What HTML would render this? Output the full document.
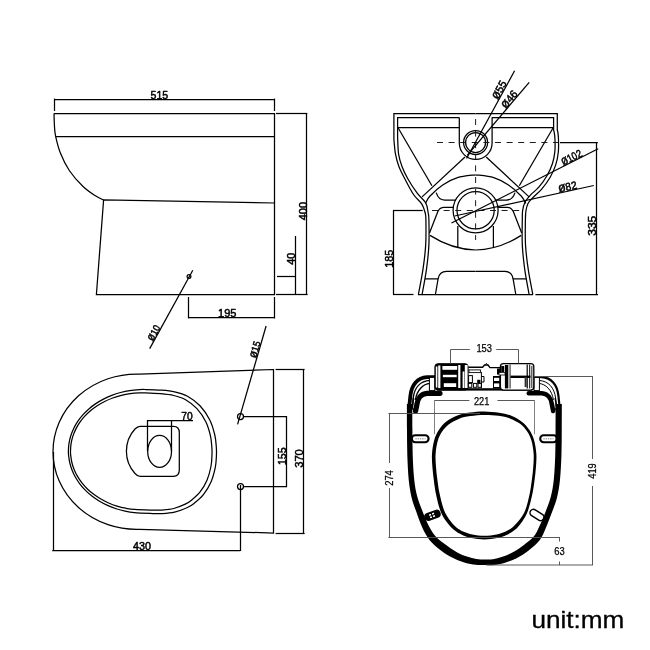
<!DOCTYPE html>
<html lang="en">
<head>
<meta charset="utf-8">
<title>Toilet dimensions (unit: mm)</title>
<style>
html,body{margin:0;padding:0;background:#fff;}
body{width:650px;height:650px;overflow:hidden;}
svg{display:block;will-change:transform;filter:grayscale(1);}
.cad{fill:none;stroke:#000;stroke-width:1.25;stroke-linecap:butt;stroke-linejoin:miter;}
.cad .dash{stroke-dasharray:6 5.6;stroke-width:0.95;stroke:#111;}
.dim{fill:none;stroke:#505050;stroke-width:0.95;}
text{font-family:"Liberation Sans",sans-serif;fill:#000;}
.t{fill:#000;stroke:#000;stroke-width:0.5;stroke-linejoin:round;}
.s{fill:#000;stroke:#000;stroke-width:0.25;}
.u{fill:#000;stroke:#000;stroke-width:0.3;}
</style>
</head>
<body>
<svg width="650" height="650" viewBox="0 0 650 650">
<rect width="650" height="650" fill="#fff"/>
<g class="cad">
<path d="M54.00,113.50 C54.07,115.42 54.13,121.23 54.40,125.00 C54.67,128.77 54.58,131.38 55.60,136.10 C56.62,140.82 58.22,147.57 60.50,153.30 C62.78,159.03 65.58,165.00 69.30,170.50 C73.02,176.00 78.52,182.12 82.80,186.30 C87.08,190.48 91.57,193.32 95.00,195.60 C98.43,197.88 102.00,199.27 103.40,200.00"/>
<path d="M54,113.5 H274.5 V294.5 H96.4 L103.6,200 L274.5,203"/>
<line x1="55.60" y1="136.50" x2="274.60" y2="136.50"/>
<line x1="54.00" y1="99.50" x2="274.40" y2="99.50"/>
<line x1="54.50" y1="98.60" x2="54.50" y2="111.00"/>
<line x1="274.50" y1="98.60" x2="274.50" y2="111.00"/>
<line x1="276.00" y1="113.50" x2="307.30" y2="113.50"/>
<line x1="276.00" y1="294.50" x2="307.60" y2="294.50"/>
<line x1="306.50" y1="113.20" x2="306.50" y2="294.50"/>
<line x1="295.50" y1="236.00" x2="295.50" y2="294.50"/>
<line x1="277.00" y1="276.50" x2="295.60" y2="276.50"/>
<line x1="188.50" y1="297.00" x2="188.50" y2="318.40"/>
<line x1="274.50" y1="297.00" x2="274.50" y2="318.40"/>
<line x1="188.60" y1="317.50" x2="274.70" y2="317.50"/>
<circle cx="189" cy="276.5" r="1.9"/>
<line x1="192.80" y1="270.30" x2="149.70" y2="348.60"/>
<line x1="266.10" y1="326.00" x2="237.60" y2="424.40"/>
</g>
<g class="cad">
<path d="M273.5,369.5 L139.5,374.1 A83.5,77.65 0 1 0 139.5,529.3 L273.5,533 Z"/>
<path d="M68.40,451.10 C68.47,449.16 68.60,445.93 69.00,443.38 C69.39,440.83 69.99,438.27 70.77,435.78 C71.56,433.29 72.54,430.82 73.70,428.42 C74.86,426.03 76.22,423.68 77.74,421.42 C79.26,419.17 80.97,416.97 82.82,414.89 C84.67,412.81 86.70,410.81 88.86,408.93 C91.02,407.06 93.34,405.28 95.77,403.64 C98.20,402.00 100.78,400.47 103.45,399.09 C106.11,397.71 108.90,396.46 111.75,395.36 C114.61,394.27 117.57,393.31 120.57,392.51 C123.57,391.72 126.65,391.07 129.75,390.59 C132.85,390.11 136.62,389.80 139.16,389.62 C141.70,389.44 141.39,389.42 145.00,389.50 C148.61,389.58 155.87,389.72 160.80,390.10 C165.73,390.48 170.15,390.78 174.60,391.80 C179.05,392.82 183.27,393.87 187.50,396.20 C191.73,398.53 196.28,401.83 200.00,405.80 C203.72,409.77 207.33,415.13 209.80,420.00 C212.27,424.87 213.72,430.50 214.80,435.00 C215.88,439.50 216.03,443.50 216.30,447.00 C216.57,450.50 216.57,452.60 216.40,456.00 C216.23,459.40 216.20,463.07 215.30,467.40 C214.40,471.73 212.98,477.47 211.00,482.00 C209.02,486.53 206.23,491.03 203.40,494.60 C200.57,498.17 196.75,501.20 194.00,503.40 C191.25,505.60 190.13,506.33 186.90,507.80 C183.67,509.27 178.70,511.23 174.60,512.20 C170.50,513.17 166.40,513.40 162.30,513.60 C158.20,513.80 154.64,513.56 150.00,513.40 C145.36,513.24 138.58,512.99 134.44,512.61 C130.29,512.24 128.18,511.80 125.12,511.15 C122.07,510.51 119.04,509.70 116.11,508.75 C113.17,507.79 110.29,506.68 107.53,505.43 C104.76,504.18 102.07,502.78 99.52,501.26 C96.97,499.74 94.52,498.07 92.22,496.30 C89.92,494.52 87.74,492.62 85.73,490.62 C83.72,488.62 81.84,486.51 80.15,484.32 C78.46,482.13 76.93,479.84 75.59,477.50 C74.24,475.15 73.07,472.72 72.10,470.26 C71.12,467.80 70.33,465.26 69.74,462.72 C69.15,460.17 68.77,456.93 68.55,454.99 C68.33,453.06 68.33,453.04 68.40,451.10Z"/>
<path d="M70.50,451.18 C70.57,449.34 70.69,446.16 71.08,443.70 C71.47,441.24 72.05,438.81 72.81,436.42 C73.58,434.03 74.53,431.67 75.67,429.38 C76.80,427.09 78.12,424.84 79.60,422.68 C81.09,420.52 82.75,418.43 84.56,416.44 C86.37,414.46 88.35,412.55 90.45,410.76 C92.56,408.98 94.82,407.29 97.19,405.74 C99.56,404.19 102.07,402.74 104.67,401.45 C107.26,400.15 109.98,398.98 112.75,397.97 C115.53,396.95 118.41,396.07 121.32,395.35 C124.23,394.62 127.21,394.05 130.23,393.63 C133.24,393.21 136.94,392.97 139.39,392.84 C141.84,392.70 141.40,392.68 144.93,392.82 C148.45,392.95 155.72,393.21 160.52,393.66 C165.33,394.10 169.58,394.49 173.76,395.49 C177.93,396.50 181.71,397.50 185.57,399.70 C189.44,401.89 193.55,404.95 196.94,408.67 C200.33,412.38 203.66,417.40 205.92,421.97 C208.18,426.53 209.51,431.81 210.50,436.04 C211.49,440.26 211.62,444.05 211.86,447.34 C212.10,450.63 212.10,452.59 211.95,455.78 C211.80,458.98 211.78,462.42 210.96,466.50 C210.13,470.58 208.81,476.01 207.00,480.25 C205.19,484.49 202.67,488.63 200.08,491.96 C197.48,495.28 193.91,498.17 191.44,500.20 C188.97,502.24 188.21,502.79 185.25,504.17 C182.30,505.56 177.59,507.54 173.73,508.51 C169.88,509.49 166.06,509.76 162.12,510.01 C158.19,510.26 154.69,510.09 150.12,510.01 C145.55,509.92 138.78,509.77 134.72,509.47 C130.66,509.18 128.70,508.79 125.74,508.22 C122.79,507.64 119.84,506.91 116.99,506.03 C114.14,505.15 111.34,504.12 108.65,502.95 C105.96,501.78 103.34,500.47 100.85,499.03 C98.37,497.59 95.97,496.02 93.73,494.33 C91.49,492.65 89.36,490.84 87.40,488.93 C85.44,487.03 83.61,485.01 81.96,482.92 C80.31,480.83 78.82,478.64 77.51,476.40 C76.20,474.15 75.05,471.82 74.10,469.46 C73.15,467.10 72.38,464.69 71.80,462.24 C71.23,459.79 70.86,456.60 70.64,454.75 C70.42,452.91 70.42,453.02 70.50,451.18Z"/>
<path d="M140,426.3 H173.5 Q179.3,426.3 179.3,432.5 V470 Q179.3,476.3 173.5,476.3 H140 Q137.5,476.3 135,473.5 C129,467 126.4,460 126.4,451.3 C126.4,442.6 129,435.5 135,429 Q137.5,426.3 140,426.3 Z"/>
<ellipse cx="159.6" cy="451.4" rx="11.9" ry="16"/>
<path d="M147.5,451 V420.5 H193"/>
<line x1="171.50" y1="420.00" x2="171.50" y2="451.00"/>
<circle cx="240.5" cy="416.5" r="3"/>
<circle cx="240.5" cy="486.5" r="3"/>
<path d="M243.4,416.5 H286.5 V486.5 H243.4"/>
<line x1="275.60" y1="369.50" x2="304.60" y2="369.50"/>
<line x1="275.60" y1="533.50" x2="304.60" y2="533.50"/>
<line x1="303.50" y1="369.60" x2="303.50" y2="533.60"/>
<line x1="53.50" y1="452.00" x2="53.50" y2="551.00"/>
<line x1="240.50" y1="485.00" x2="240.50" y2="551.00"/>
<line x1="52.20" y1="550.50" x2="240.30" y2="550.50"/>
</g>
<g class="cad">
<path d="M475.60,113.5 H393.9 V139.50 C394.17,141.95 394.67,149.70 395.50,154.20 C396.33,158.70 397.35,162.40 398.90,166.50 C400.45,170.60 402.37,174.13 404.80,178.80 C407.23,183.47 410.63,190.25 413.50,194.50 C416.37,198.75 420.05,201.22 422.00,204.30 C423.95,207.38 424.55,210.38 425.20,213.00 C425.85,215.62 425.82,214.73 425.90,220.00 C425.98,225.27 426.18,236.40 425.70,244.60 C425.22,252.80 424.22,260.88 423.00,269.20 C421.78,277.52 419.17,290.28 418.40,294.50"/>
<path d="M459.3,117.5 H397.6 V137.00 C397.77,139.87 397.87,149.28 398.60,154.20 C399.33,159.12 400.47,162.40 402.00,166.50 C403.53,170.60 405.27,174.35 407.80,178.80 C410.33,183.25 414.20,189.17 417.20,193.20 C420.20,197.23 423.97,199.70 425.80,203.00 C427.63,206.30 427.68,210.17 428.20,213.00 C428.72,215.83 428.78,214.73 428.90,220.00 C429.02,225.27 429.30,236.40 428.90,244.60 C428.50,252.80 427.63,260.88 426.50,269.20 C425.37,277.52 422.83,290.28 422.10,294.50"/>
<line x1="397.6" y1="127.5" x2="459.3" y2="127.5"/>
<line x1="397.6" y1="127" x2="431.9" y2="185.8"/>
<line x1="465" y1="157" x2="422.1" y2="196.9"/>
<path d="M475.60,174.80 C472.58,175.28 462.98,176.00 457.50,177.70 C452.02,179.40 447.32,181.92 442.70,185.00 C438.08,188.08 432.68,193.12 429.80,196.20 C426.92,199.28 426.13,202.28 425.40,203.50"/>
<path d="M436.2,192.6 Q438.5,200 444.5,200 H455.6"/>
<path d="M453.3,207.4 H443.5 Q439,207.4 436.8,214.2 L429.5,233"/>
<path d="M430,235.4 Q452,249.5 475.60,250"/>
<line x1="457.8" y1="226" x2="457.8" y2="247.1"/>
<path d="M425,278.8 H438.1 L435.4,294.5"/>
<path d="M438.1,278.8 Q439.5,271.4 446.5,271.4 H475.60"/>
<g transform="translate(951.20,0) scale(-1,1)">
<path d="M475.60,113.5 H393.9 V130.00 C393.37,131.67 392.80,136.28 392.70,140.00 C392.60,143.72 392.45,148.20 392.90,152.30 C393.35,156.40 394.07,160.48 395.40,164.60 C396.73,168.72 398.55,172.90 400.90,177.00 C403.25,181.10 406.62,185.78 409.50,189.20 C412.38,192.62 415.92,195.12 418.20,197.50 C420.48,199.88 422.02,201.25 423.20,203.50 C424.38,205.75 424.87,208.25 425.30,211.00 C425.73,213.75 425.73,214.40 425.80,220.00 C425.87,225.60 426.17,236.40 425.70,244.60 C425.23,252.80 424.22,260.88 423.00,269.20 C421.78,277.52 419.17,290.28 418.40,294.50"/>
<path d="M459.3,117.5 H397.6 V130.00 C397.03,131.68 396.34,136.44 396.20,140.09 C396.06,143.75 395.96,148.01 396.38,151.92 C396.80,155.82 397.47,159.63 398.73,163.52 C399.99,167.41 401.70,171.36 403.94,175.26 C406.18,179.16 409.38,183.64 412.17,186.94 C414.97,190.25 418.40,192.58 420.73,195.08 C423.05,197.58 424.82,199.40 426.12,201.96 C427.43,204.53 428.10,207.48 428.56,210.49 C429.02,213.49 428.84,214.31 428.90,220.00 C428.96,225.69 429.30,236.40 428.90,244.60 C428.50,252.80 427.63,260.88 426.50,269.20 C425.37,277.52 422.83,290.28 422.10,294.50"/>
<line x1="397.6" y1="127.5" x2="459.3" y2="127.5"/>
<line x1="397.6" y1="127" x2="431.9" y2="185.8"/>
<line x1="465" y1="157" x2="422.1" y2="196.9"/>
<path d="M475.60,174.80 C472.58,175.28 462.98,176.00 457.50,177.70 C452.02,179.40 447.32,181.92 442.70,185.00 C438.08,188.08 432.68,193.12 429.80,196.20 C426.92,199.28 426.13,202.28 425.40,203.50"/>
<path d="M436.2,192.6 Q438.5,200 444.5,200 H455.6"/>
<path d="M453.3,207.4 H443.5 Q439,207.4 436.8,214.2 L429.5,233"/>
<path d="M430,235.4 Q452,249.5 475.60,250"/>
<line x1="457.8" y1="226" x2="457.8" y2="247.1"/>
<path d="M425,278.8 H438.1 L435.4,294.5"/>
<path d="M438.1,278.8 Q439.5,271.4 446.5,271.4 H475.60"/>
</g>
<path d="M459.3,117.5 V143 A16.4,16.4 0 0 0 492.1,143 V117.5"/>
<circle cx="475.60" cy="142.5" r="12"/>
<circle cx="475.60" cy="142.5" r="10"/>
<circle cx="475.60" cy="210.3" r="22.5"/>
<circle cx="475.60" cy="210.3" r="18.6"/>
<line x1="393.00" y1="294.50" x2="413.50" y2="294.50"/>
<line x1="418.00" y1="294.50" x2="533.00" y2="294.50"/>
<line x1="535.40" y1="294.50" x2="598.00" y2="294.50"/>
<line x1="475.60" y1="119" x2="475.60" y2="240" class="dash"/>
<line x1="437" y1="142.5" x2="558" y2="142.5" class="dash"/>
<line x1="432" y1="210.5" x2="520" y2="210.5" class="dash"/>
<line x1="393.00" y1="210.50" x2="422.70" y2="210.50"/>
<line x1="393.50" y1="210.60" x2="393.50" y2="294.50"/>
<line x1="560.00" y1="142.50" x2="597.80" y2="142.50"/>
<line x1="596.50" y1="142.50" x2="596.50" y2="294.50"/>
<line x1="466.60" y1="158.50" x2="514.60" y2="70.80"/>
<line x1="467.20" y1="155.40" x2="529.20" y2="82.30"/>
<line x1="451.50" y1="223.00" x2="598.20" y2="148.80"/>
<line x1="454.60" y1="216.00" x2="593.80" y2="185.50"/>
</g>
<rect x="411.8" y="435.2" width="16.8" height="7" rx="3.5" fill="#fff" stroke="#000" stroke-width="2.1"/>
<line x1="415.4" y1="438.7" x2="425.4" y2="438.7" stroke="#aaa" stroke-width="1.4" stroke-dasharray="1.3 1"/>
<rect x="540.2" y="435.2" width="16.8" height="7" rx="3.5" fill="#fff" stroke="#000" stroke-width="2.1"/>
<line x1="543.4" y1="438.7" x2="553.4" y2="438.7" stroke="#aaa" stroke-width="1.4" stroke-dasharray="1.3 1"/>
<g transform="rotate(-20 432.5 515.3)"><rect x="424" y="511.2" width="17" height="8.2" rx="4.1" fill="#000"/><rect x="429.4" y="513.2" width="2" height="1.6" fill="#fff"/><rect x="432.6" y="513.2" width="2" height="1.6" fill="#fff"/><rect x="429.4" y="515.8" width="2" height="1.6" fill="#fff"/><rect x="432.6" y="515.8" width="2" height="1.6" fill="#fff"/></g>
<g transform="rotate(32 537 515)"><rect x="529.4" y="511.6" width="15.2" height="6.8" rx="3.4" fill="#fff" stroke="#000" stroke-width="1.5"/></g>
<g class="seat">
<path d="M412.30,403.99 C412.32,408.32 412.33,421.49 412.40,429.98 C412.47,438.46 412.39,446.61 412.70,454.90 C413.00,463.19 413.49,472.81 414.24,479.71 C414.98,486.62 415.87,491.27 417.17,496.31 C418.46,501.35 420.17,505.21 422.01,509.95 C423.85,514.69 426.04,520.49 428.22,524.77 C430.40,529.05 432.21,532.34 435.08,535.65 C437.95,538.95 441.85,541.89 445.41,544.60 C448.97,547.31 452.85,549.92 456.44,551.91 C460.03,553.90 463.65,555.38 466.98,556.55 C470.31,557.72 473.51,558.43 476.42,558.93 C479.33,559.43 481.70,559.50 484.45,559.55 C487.20,559.60 489.96,559.67 492.93,559.22 C495.91,558.77 499.00,558.02 502.32,556.85 C505.64,555.68 509.27,554.20 512.86,552.21 C516.45,550.22 520.34,547.59 523.89,544.90 C527.43,542.20 531.45,539.38 534.15,536.04 C536.85,532.70 538.07,529.22 540.09,524.87 C542.10,520.51 544.44,514.68 546.25,509.92 C548.05,505.15 549.69,501.29 550.94,496.25 C552.19,491.21 553.05,486.57 553.77,479.68 C554.49,472.78 554.95,463.17 555.25,454.89 C555.55,446.60 555.48,438.46 555.55,429.98 C555.62,421.49 555.63,408.32 555.65,403.99 L561.85,404.01 C561.83,408.35 561.82,421.51 561.75,430.02 C561.68,438.54 561.75,446.73 561.45,455.11 C561.15,463.49 560.68,473.22 559.93,480.32 C559.18,487.43 558.27,492.45 556.96,497.75 C555.65,503.04 553.88,507.12 552.05,512.08 C550.23,517.05 548.08,522.82 546.01,527.53 C543.95,532.25 542.60,536.50 539.65,540.36 C536.70,544.22 532.23,547.70 528.31,550.70 C524.40,553.71 520.15,556.35 516.14,558.39 C512.13,560.43 508.02,561.85 504.28,562.95 C500.53,564.04 496.99,564.63 493.67,564.98 C490.34,565.33 487.37,565.10 484.35,565.05 C481.34,565.00 478.80,565.07 475.58,564.67 C472.36,564.27 468.76,563.74 465.02,562.65 C461.29,561.55 457.17,560.13 453.16,558.09 C449.15,556.05 444.89,553.39 440.99,550.40 C437.08,547.41 432.82,543.95 429.72,540.15 C426.62,536.36 424.60,532.32 422.38,527.63 C420.16,522.95 418.18,517.04 416.39,512.05 C414.60,507.06 412.90,502.98 411.63,497.69 C410.36,492.39 409.49,487.38 408.76,480.29 C408.04,473.19 407.60,463.47 407.30,455.10 C407.01,446.72 407.07,438.54 407.00,430.02 C406.93,421.51 406.92,408.35 406.90,404.01 Z" fill="#000" stroke="none"/>
<path d="M484.40,415.00 C479.68,415.04 474.56,415.43 470.27,416.08 C465.98,416.73 462.26,417.49 458.65,418.88 C455.04,420.27 451.38,422.27 448.60,424.42 C445.83,426.57 443.82,429.03 442.00,431.79 C440.19,434.55 438.80,437.28 437.73,441.00 C436.66,444.72 435.88,449.81 435.60,454.12 C435.31,458.43 435.70,462.60 436.00,466.88 C436.29,471.15 436.79,475.30 437.38,479.76 C437.98,484.22 438.48,488.60 439.56,493.62 C440.64,498.64 442.27,505.56 443.88,509.86 C445.50,514.17 447.22,516.58 449.27,519.46 C451.31,522.33 453.75,525.08 456.16,527.13 C458.58,529.18 461.05,530.53 463.75,531.76 C466.45,533.00 468.91,533.86 472.35,534.53 C475.79,535.21 480.38,535.80 484.40,535.80 C488.42,535.80 493.01,535.21 496.45,534.53 C499.89,533.86 502.35,533.00 505.05,531.76 C507.75,530.53 510.19,529.15 512.64,527.13 C515.08,525.10 517.62,522.45 519.74,519.60 C521.85,516.75 523.68,514.34 525.34,510.02 C526.99,505.71 528.59,498.75 529.68,493.71 C530.77,488.68 531.27,484.29 531.86,479.82 C532.46,475.35 532.95,471.20 533.25,466.91 C533.55,462.62 533.94,458.43 533.65,454.09 C533.36,449.75 532.58,444.63 531.50,440.87 C530.42,437.12 529.01,434.34 527.17,431.54 C525.33,428.74 523.29,426.22 520.47,424.07 C517.65,421.92 513.89,420.02 510.24,418.65 C506.59,417.27 502.87,416.44 498.57,415.83 C494.26,415.22 489.12,414.96 484.40,415.00Z M484.40,411.40 C479.52,411.36 474.24,411.83 469.73,412.52 C465.22,413.21 461.24,414.01 457.35,415.52 C453.46,417.03 449.45,419.20 446.40,421.58 C443.34,423.96 441.02,426.74 439.00,429.81 C436.97,432.88 435.44,435.99 434.27,440.00 C433.11,444.01 432.32,449.36 432.00,453.88 C431.69,458.40 432.10,462.73 432.40,467.12 C432.71,471.52 433.21,475.70 433.82,480.24 C434.42,484.78 434.92,489.23 436.04,494.38 C437.16,499.53 438.80,506.61 440.52,511.14 C442.23,515.66 444.11,518.42 446.33,521.54 C448.55,524.67 451.18,527.62 453.84,529.87 C456.49,532.12 459.28,533.67 462.25,535.04 C465.22,536.40 467.96,537.34 471.65,538.07 C475.35,538.79 480.15,539.40 484.40,539.40 C488.65,539.40 493.45,538.79 497.15,538.07 C500.84,537.34 503.58,536.40 506.55,535.04 C509.52,533.67 512.35,532.15 514.96,529.87 C517.58,527.60 520.11,524.55 522.26,521.40 C524.41,518.25 526.19,515.50 527.86,510.98 C529.54,506.46 531.21,499.42 532.32,494.29 C533.43,489.15 533.93,484.71 534.54,480.18 C535.14,475.65 535.65,471.47 535.95,467.09 C536.25,462.71 536.66,458.40 536.35,453.91 C536.04,449.41 535.25,444.10 534.10,440.13 C532.94,436.15 531.42,433.09 529.43,430.06 C527.43,427.03 525.14,424.32 522.13,421.93 C519.12,419.55 515.21,417.28 511.36,415.75 C507.51,414.23 503.53,413.49 499.03,412.77 C494.54,412.04 489.28,411.44 484.40,411.40Z" fill="#000" fill-rule="evenodd" stroke="none"/>
</g>
<g>
<path d="M435,377.2 H427 C417.5,377.6 411.6,385 410.4,395.6 L409.2,407" fill="none" stroke="#000" stroke-width="3.8"/>
<path d="M440,393.3 H427 C420.6,393.8 417.6,399 417,404 L415.6,411" fill="none" stroke="#000" stroke-width="5.2" stroke-linecap="round"/>
<path d="M430,380.4 C420,381 414.4,388 413.2,398 L412.4,408" fill="none" stroke="#000" stroke-width="1.4"/>
<path d="M430,383.4 C423,384 416.8,390 415.4,400" fill="none" stroke="#000" stroke-width="1.4"/>
<path d="M413.6,398 L412,408.5 L415,410" fill="none" stroke="#000" stroke-width="1.6"/>
<rect x="429.4" y="377.4" width="5.4" height="13.2" fill="#fff" stroke="#000" stroke-width="1"/>
<g transform="translate(968.80,0) scale(-1,1)">
<path d="M435,377.2 H427 C417.5,377.6 411.6,385 410.4,395.6 L409.2,407" fill="none" stroke="#000" stroke-width="2.2"/>
<path d="M440,393.3 H427 C420.6,393.8 417.6,399 417,404 L415.6,411" fill="none" stroke="#000" stroke-width="4.6" stroke-linecap="round"/>
<path d="M430,380.4 C420,381 414.4,388 413.2,398 L412.4,408" fill="none" stroke="#000" stroke-width="1.0"/>
<path d="M430,383.4 C423,384 416.8,390 415.4,400" fill="none" stroke="#000" stroke-width="1.0"/>
<path d="M413.6,398 L412,408.5 L415,410" fill="none" stroke="#000" stroke-width="1.6"/>
<rect x="429.4" y="377.4" width="5.4" height="13.2" fill="#fff" stroke="#000" stroke-width="1"/>
</g>
<rect x="437" y="388.2" width="95" height="2.4" fill="#000"/>
<rect x="434.9" y="363.7" width="33.2" height="26.4" rx="3" fill="#000" stroke="#000" stroke-width="1"/>
<rect x="435.8" y="366.5" width="1.6" height="21" fill="#fff"/>
<rect x="438.2" y="365.5" width="2.2" height="22.6" fill="#fff"/>
<rect x="442.4" y="366" width="14.8" height="3.8" fill="#fff"/>
<rect x="442.9" y="374.8" width="13.8" height="2.4" fill="#fff"/>
<rect x="443.8" y="383.2" width="12.4" height="3.8" fill="#fff"/>
<rect x="458.2" y="365" width="2.2" height="23" fill="#fff"/>
<rect x="462.6" y="371.5" width="1.8" height="16.5" fill="#fff"/>
<rect x="464.8" y="365" width="2.8" height="23" fill="#fff"/>
<rect x="500.4" y="363.7" width="33.4" height="26.4" rx="3" fill="#fff" stroke="#000" stroke-width="1.3"/>
<rect x="504.9" y="365" width="3.4" height="23.4" fill="#000"/>
<rect x="509.6" y="364.5" width="0.9" height="24" fill="#000"/>
<rect x="510.5" y="375.6" width="20" height="2.4" fill="#000"/>
<rect x="526.6" y="364.5" width="1.2" height="24" fill="#000"/><rect x="529.2" y="364.5" width="1" height="24" fill="#000"/>
<rect x="531.4" y="366" width="0.9" height="22" fill="#000"/>
<rect x="501.2" y="366" width="3" height="6" fill="#000"/>
<rect x="524.6" y="377" width="2" height="10" fill="#333"/>
<path d="M468.3,367.2 H482.6 L484.6,365 H488 L490,367.6 H500" fill="none" stroke="#000" stroke-width="1.4"/>
<path d="M484.8,365 L486.4,363.4 L488,365" fill="none" stroke="#000" stroke-width="0.9"/>
<rect x="469" y="369.9" width="11.4" height="2.7" fill="#fff" stroke="#000" stroke-width="0.9"/>
<rect x="468.6" y="375.6" width="3.8" height="7" fill="#fff" stroke="#000" stroke-width="1"/>
<rect x="468.4" y="383.4" width="3.4" height="3.9" fill="#fff" stroke="#000" stroke-width="1"/>
<rect x="473.4" y="383.4" width="3.4" height="3.9" fill="#fff" stroke="#000" stroke-width="1"/>
<rect x="478" y="383.4" width="3.4" height="3.9" fill="#fff" stroke="#000" stroke-width="1"/>
<rect x="477.2" y="379.8" width="3.2" height="3.6" fill="#000"/>
<rect x="493" y="376" width="7.2" height="12.4" fill="#000"/>
<rect x="494" y="377.8" width="5.2" height="3.2" fill="#fff"/>
<rect x="494" y="383.4" width="5.2" height="3.6" fill="#fff"/>
<rect x="497" y="368.5" width="3.4" height="6" fill="#000"/>
<rect x="499" y="372.6" width="6" height="2.4" fill="#fff" stroke="#000" stroke-width="0.8"/>
<path d="M481.4,372 V388 M481.4,376.5 H484 V382 H481.4" fill="none" stroke="#000" stroke-width="1"/>
</g>
<g class="dim">
<path d="M450.5,363.4 V349.5 H469.8 M496.3,349.5 H518.5 V363.4"/>
<path d="M434.2,400.5 H469.3 M497.4,400.5 H534.8"/>
<path d="M434.5,434.2 V400.5 M534.5,400.5 V434.2" stroke="#7a7a7a"/>
<path d="M388.4,413.5 H480"/>
<path d="M389.5,413.5 V463 M389.5,488 V537.5"/>
<path d="M388.4,537.5 H560"/>
<path d="M534,376.5 H593"/>
<path d="M592.5,376.5 V459 M592.5,486 V565"/>
<path d="M486,565 H593"/>
<path d="M559.5,537 V541.5 M559.5,561.5 V565"/>
</g>
<text x="159.40" y="99.00" font-size="11.20" text-anchor="middle" class="t" textLength="17.6" lengthAdjust="spacingAndGlyphs">515</text>
<text x="306.60" y="211.10" font-size="11.20" text-anchor="middle" class="t" transform="rotate(-90.00 306.60 211.10)" textLength="18.2" lengthAdjust="spacingAndGlyphs">400</text>
<text x="294.80" y="258.70" font-size="11.20" text-anchor="middle" class="t" transform="rotate(-90.00 294.80 258.70)" textLength="12.0" lengthAdjust="spacingAndGlyphs">40</text>
<text x="227.20" y="317.20" font-size="11.20" text-anchor="middle" class="t" textLength="18.4" lengthAdjust="spacingAndGlyphs">195</text>
<text x="156.69" y="334.65" font-size="10.00" text-anchor="middle" class="t" transform="rotate(-61.17 156.69 334.65)" textLength="16.2" lengthAdjust="spacingAndGlyphs"><tspan font-size="12.2">ø</tspan>10</text>
<text x="258.35" y="350.60" font-size="10.00" text-anchor="middle" class="t" transform="rotate(-73.85 258.35 350.60)" textLength="17.2" lengthAdjust="spacingAndGlyphs"><tspan font-size="12.2">ø</tspan>15</text>
<text x="186.90" y="419.80" font-size="11.20" text-anchor="middle" class="t" textLength="11.4" lengthAdjust="spacingAndGlyphs">70</text>
<text x="285.80" y="456.30" font-size="11.20" text-anchor="middle" class="t" transform="rotate(-90.00 285.80 456.30)" textLength="17.6" lengthAdjust="spacingAndGlyphs">155</text>
<text x="303.40" y="458.50" font-size="11.20" text-anchor="middle" class="t" transform="rotate(-90.00 303.40 458.50)" textLength="18.7" lengthAdjust="spacingAndGlyphs">370</text>
<text x="142.10" y="550.20" font-size="11.20" text-anchor="middle" class="t" textLength="18.0" lengthAdjust="spacingAndGlyphs">430</text>
<text x="392.80" y="258.80" font-size="11.20" text-anchor="middle" class="t" transform="rotate(-90.00 392.80 258.80)" textLength="18.0" lengthAdjust="spacingAndGlyphs">185</text>
<text x="596.20" y="225.70" font-size="11.20" text-anchor="middle" class="t" transform="rotate(-90.00 596.20 225.70)" textLength="20.0" lengthAdjust="spacingAndGlyphs">335</text>
<text x="502.46" y="91.73" font-size="11.00" text-anchor="middle" class="t" transform="rotate(-61.31 502.46 91.73)" textLength="19.5" lengthAdjust="spacingAndGlyphs"><tspan font-size="13.4">ø</tspan>55</text>
<text x="511.97" y="101.69" font-size="11.00" text-anchor="middle" class="t" transform="rotate(-49.70 511.97 101.69)" textLength="19.5" lengthAdjust="spacingAndGlyphs"><tspan font-size="13.4">ø</tspan>46</text>
<text x="573.09" y="160.83" font-size="11.00" text-anchor="middle" class="t" transform="rotate(-26.83 573.09 160.83)" textLength="22.0" lengthAdjust="spacingAndGlyphs"><tspan font-size="13.4">ø</tspan>102</text>
<text x="568.20" y="190.58" font-size="11.00" text-anchor="middle" class="t" transform="rotate(-12.32 568.20 190.58)" textLength="19.0" lengthAdjust="spacingAndGlyphs"><tspan font-size="13.4">ø</tspan>82</text>
<text x="484.20" y="352.10" font-size="10.50" text-anchor="middle" class="s" textLength="15.6" lengthAdjust="spacingAndGlyphs">153</text>
<text x="481.60" y="404.60" font-size="10.50" text-anchor="middle" class="s" textLength="15.4" lengthAdjust="spacingAndGlyphs">221</text>
<text x="392.60" y="478.00" font-size="10.50" text-anchor="middle" class="s" transform="rotate(-90.00 392.60 478.00)" textLength="15.6" lengthAdjust="spacingAndGlyphs">274</text>
<text x="596.40" y="471.00" font-size="10.50" text-anchor="middle" class="s" transform="rotate(-90.00 596.40 471.00)" textLength="15.6" lengthAdjust="spacingAndGlyphs">419</text>
<text x="559.40" y="555.40" font-size="10.50" text-anchor="middle" class="s" textLength="10.4" lengthAdjust="spacingAndGlyphs">63</text>
<text x="531.4" y="628" font-size="23.4" class="u" textLength="93" lengthAdjust="spacingAndGlyphs">unit:mm</text>
</svg>
</body>
</html>
